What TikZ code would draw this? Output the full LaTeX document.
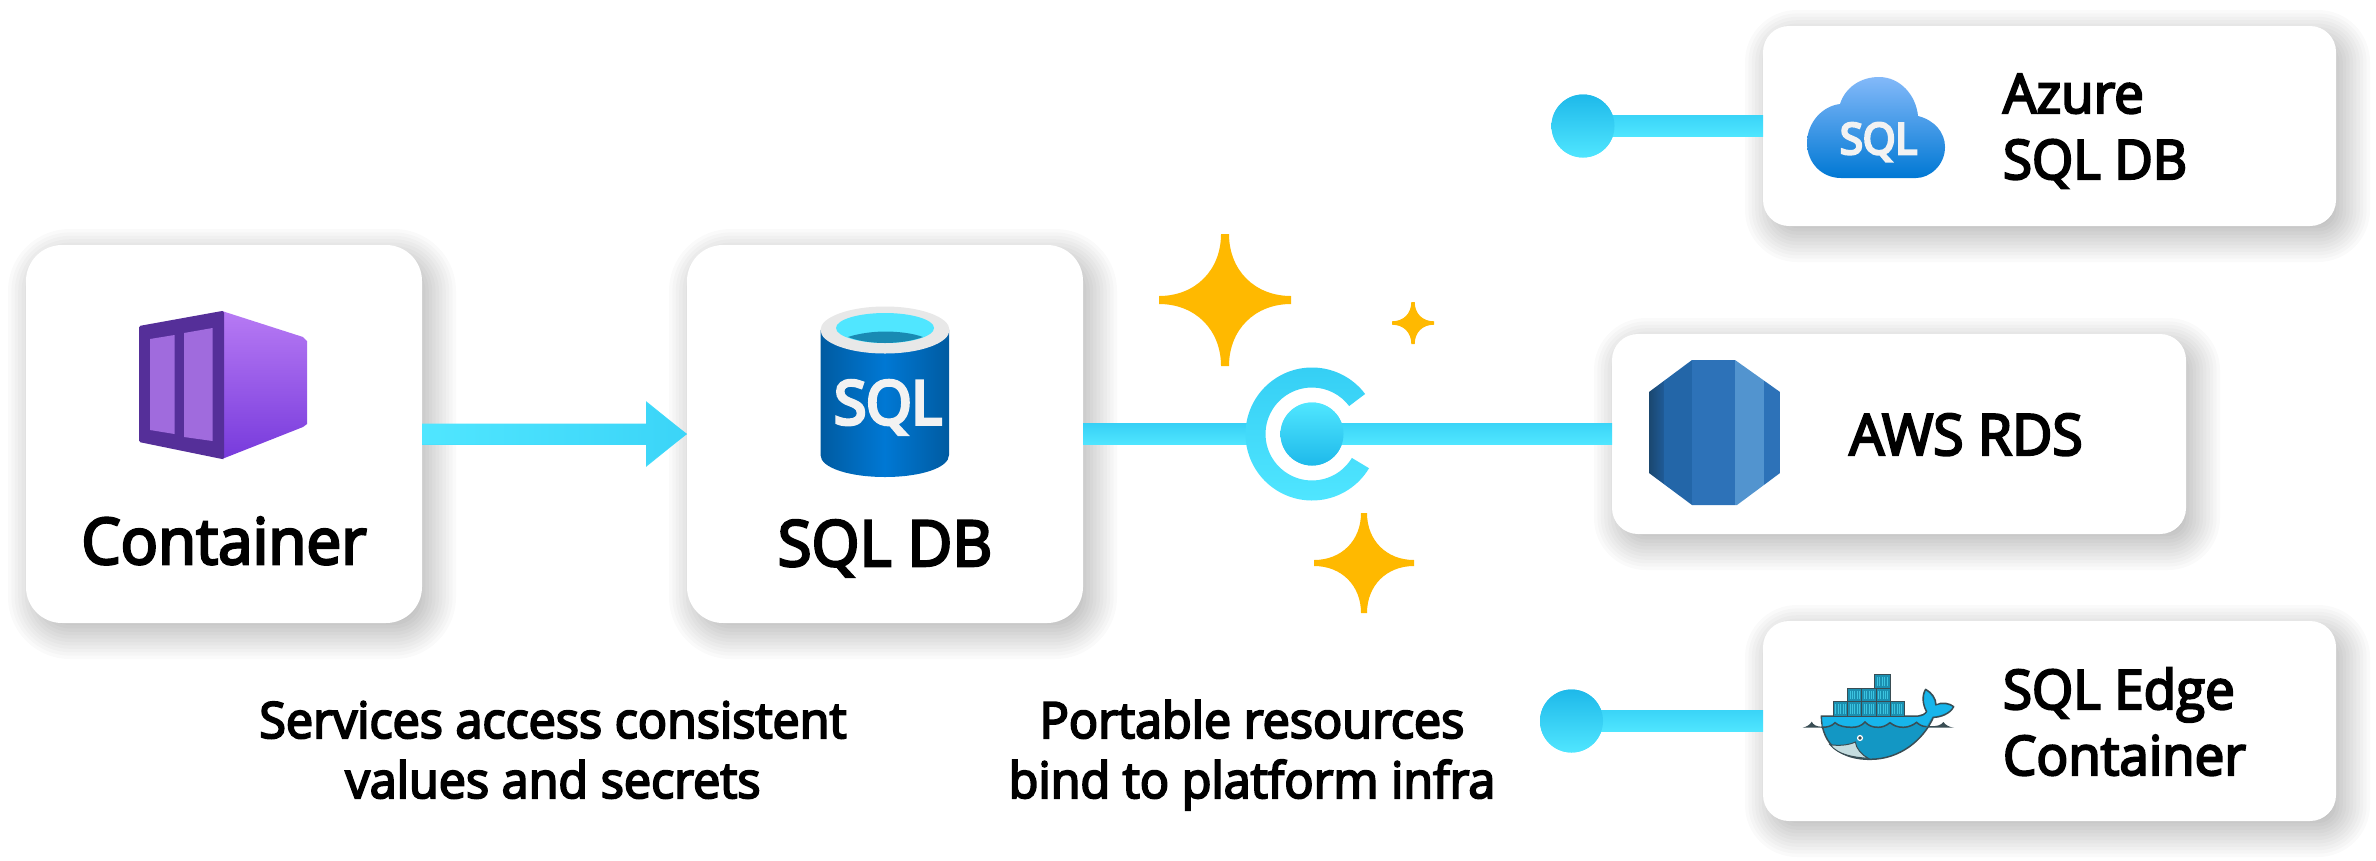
\documentclass[tikz,border=0pt]{standalone}
\usepackage{fontspec}
\usetikzlibrary{arrows.meta,calc}
\newfontfamily\seg{Open Sans}[FakeBold=4,FakeStretch=0.97]
\newfontfamily\segb{Open Sans}[FakeBold=6,FakeStretch=0.97]
\definecolor{flowc}{HTML}{42DBFB}
\definecolor{sparkc}{HTML}{FFB900}
\definecolor{whaleline}{HTML}{394D54}
\definecolor{lightc}{HTML}{50E6FF}
\definecolor{dotdark}{HTML}{1EB9EA}
\definecolor{purpA}{HTML}{B77AF4}
\definecolor{purpB}{HTML}{773ADC}
\definecolor{purpC}{HTML}{552F99}
\definecolor{purpD}{HTML}{A06BDD}
\definecolor{cylA}{HTML}{005BA1}
\definecolor{cylB}{HTML}{0078D4}
\definecolor{greyA}{HTML}{E8E8E8}
\definecolor{tealA}{HTML}{198AB3}
\definecolor{whiteA}{HTML}{F2F2F2}
\definecolor{cloudA}{HTML}{83B9F9}
\definecolor{rdsA}{HTML}{1A476F}
\definecolor{rdsB}{HTML}{1F5B98}
\definecolor{rdsC}{HTML}{2366A8}
\definecolor{rdsD}{HTML}{2D72B8}
\definecolor{rdsE}{HTML}{5294CF}
\definecolor{whA}{HTML}{1397C4}
\definecolor{whB}{HTML}{17B5EB}
\definecolor{whC}{HTML}{C5DDE0}
\definecolor{whD}{HTML}{1B8FB0}
\definecolor{whE}{HTML}{3CC4E0}
\newcommand{\cardshadow}[5]{%
  \foreach \i in {0,...,13}{%
    \pgfmathsetmacro{\e}{26-\i*3.4}%
    \pgfmathsetmacro{\rr}{max(#5+\e,1)}%
    \fill[black,opacity=.02,rounded corners=\rr pt] ({#1+8-\e},{#2+10-\e}) rectangle ({#3+8+\e},{#4+10+\e});%
  }}
\newcommand{\sparkle}[4]{% cx cy r tip
  \fill[sparkc] ({#1-#4},{#2-#3}) -- ({#1+#4},{#2-#3})
    .. controls ({#1+#4},{#2-.45*#3}) and ({#1+.45*#3},{#2-#4}) .. ({#1+#3},{#2-#4})
    -- ({#1+#3},{#2+#4})
    .. controls ({#1+.45*#3},{#2+#4}) and ({#1+#4},{#2+.45*#3}) .. ({#1+#4},{#2+#3})
    -- ({#1-#4},{#2+#3})
    .. controls ({#1-#4},{#2+.45*#3}) and ({#1-.45*#3},{#2+#4}) .. ({#1-#3},{#2+#4})
    -- ({#1-#3},{#2-#4})
    .. controls ({#1-.45*#3},{#2-#4}) and ({#1-#4},{#2-.45*#3}) .. ({#1-#4},{#2-#3}) -- cycle;}
\tikzset{
  card/.style={fill=white,inner sep=0pt,outer sep=0pt,rounded corners=#1},
  dotn/.style={circle,inner sep=0pt,outer sep=0pt,minimum size=63pt,top color=dotdark,bottom color=lightc},
  flow/.style={draw=flowc,line width=21pt},
  lbl/.style={text=black,inner sep=0pt,outer sep=0pt,font=\seg\fontsize{#1}{#1}\selectfont},
  two/.style={align=left,inner sep=0pt,outer sep=0pt,text=black,font=\seg\fontsize{#1}{66}\selectfont},
  sub/.style={align=center,inner sep=0pt,outer sep=0pt,text=black,font=\seg\fontsize{50}{60}\selectfont},
}
\begin{document}
\begin{tikzpicture}[x=1pt,y=-1pt]
\useasboundingbox (0,0) rectangle (2376,860);
\fill[white] (0,0) rectangle (2376,860);
% shadows
\cardshadow{26}{245}{422}{623}{36}
\cardshadow{687}{245}{1083}{623}{36}
\cardshadow{1763}{26}{2336}{226}{26}
\cardshadow{1612}{334}{2186}{534}{26}
\cardshadow{1763}{621}{2336}{821}{26}
% cards
\node[card=36pt,minimum width=396pt,minimum height=378pt] (container) at (224,434) {};
\node[card=36pt,minimum width=396pt,minimum height=378pt] (sqldb) at (885,434) {};
\node[card=26pt,minimum width=573pt,minimum height=200pt] (azure) at (2049.5,126) {};
\node[card=26pt,minimum width=574pt,minimum height=200pt] (aws) at (1899,434) {};
\node[card=26pt,minimum width=573pt,minimum height=200pt] (edge) at (2049.5,721) {};
% connector dots
\coordinate (hubin) at (1255,434);
\node[dotn] (azdot) at (1583,126) {};
\node[dotn] (edgedot) at (1571.5,721) {};
% connectors
\draw[flow,-{Triangle[width=63pt,length=41pt]}] (container.east) -- (sqldb.west);
\shade[left color=lightc,right color=flowc!80!dotdark] (422,423.5) -- (646,423.5) -- (646,403) -- (sqldb.west) -- (646,465) -- (646,444.5) -- (422,444.5) -- cycle;
\draw[flow] (sqldb.east) -- (hubin);
\shade[top color=flowc!70!dotdark,bottom color=lightc] (1083,423.5) rectangle (1255,444.5);
\draw[flow] (azdot) -- (azure.west);
\shade[top color=flowc!80!dotdark,bottom color=lightc] (1583,115.5) rectangle (1763,136.5);
\draw[flow] (edgedot) -- (edge.west);
\shade[top color=flowc!80!dotdark,bottom color=lightc] (1571.5,710.5) rectangle (1763,731.5);
% redraw dots above their lines
\shade[top color=dotdark,bottom color=lightc] (azdot) circle[radius=31.5pt];
\shade[top color=dotdark,bottom color=lightc] (edgedot) circle[radius=31.5pt];
% hub
\node[circle,inner sep=0pt,outer sep=0pt,minimum size=63pt,top color=lightc,bottom color=dotdark] (hub) at (1312,434) {};
\draw[flow] (hub) -- (aws.west);
\shade[top color=flowc!80!dotdark,bottom color=lightc] (1312,423) rectangle (1612,444);
\shade[top color=lightc,bottom color=dotdark] (hub) circle[radius=31.5pt];
\begin{scope}[shift={(1312,434)},y=1pt]
\shade[top color=flowc!60!dotdark,bottom color=lightc]
  (37:66.5pt) arc[start angle=37,end angle=329,radius=66.5pt]
  -- (329:46.5pt) arc[start angle=329,end angle=37,radius=46.5pt] -- cycle;
\end{scope}
% sparkles
\sparkle{1225}{300}{66}{4}
\sparkle{1413}{323}{21}{1.7}
\sparkle{1364}{563}{50}{3}
% container icon
\shade[top color=purpA,bottom color=purpB] (222,311) -- (303,337) -- (307,341) -- (307,424) -- (303,427) -- (222,459) -- cycle;
\fill[purpC,rounded corners=1.5pt] (139,326) -- (222,311) -- (224,311) -- (224,459) -- (222,459) -- (139,442) -- cycle;
\fill[purpD] (150,339) -- (174.5,335) -- (174.5,434) -- (150,430) -- cycle;
\fill[purpD] (184,333) -- (212.6,328) -- (212.6,441) -- (184,437) -- cycle;
\node[lbl=64,anchor=base] (containertxt) at (224,564) {Container};
% SQL cylinder
\shade[left color=cylA,right color=cylA,middle color=cylB] (820.5,330) -- (820.5,455) .. controls (820.5,468) and (850,477) .. (885,477) .. controls (920,477) and (949,468) .. (949,455) -- (949,330) -- cycle;
\fill[greyA] (885,330) circle[x radius=64.5pt,y radius=23.5pt];
\fill[lightc] (885,328) circle[x radius=49pt,y radius=15pt];
\fill[tealA] (848,337) .. controls (860,333) and (875,331.5) .. (885,331.5) .. controls (897,331.5) and (912,333) .. (923,337) .. controls (912,341) and (898,343) .. (885,343) .. controls (872,343) and (858,341) .. (848,337) -- cycle;
\node[anchor=base,inner sep=0pt,text=whiteA,font=\segb\fontsize{60}{60}\selectfont] (cylsql) at (888,424) {SQL};
\node[lbl=63.5,anchor=base] (sqldbtxt) at (885,566) {SQL DB};
% Azure cloud
\shade[top color=cloudA,bottom color=cylB] (1841,178) .. controls (1822,178) and (1807,163) .. (1807,143) .. controls (1807,123) and (1822,106) .. (1840,104) .. controls (1845,88) and (1860,77) .. (1879,77) .. controls (1900,77) and (1916,95) .. (1918,116) .. controls (1934,120) and (1945,132) .. (1945,147) .. controls (1945,165) and (1930,178) .. (1916,178) -- cycle;
\node[anchor=base,inner sep=0pt,text=whiteA,font=\segb\fontsize{43}{43}\selectfont] (cloudsql) at (1878.5,154) {SQL};
\node[two=54.5,anchor=base west] (azuretxt) at (2003,179) {Azure\\SQL DB};
% AWS RDS icon
\begin{scope}
\clip (1649,392) -- (1692,360) -- (1735,360) -- (1780,392) -- (1780,473) -- (1737,505) -- (1692,505) -- (1649,473) -- cycle;
\shade[left color=rdsA,right color=rdsB] (1649,355) rectangle (1664,510);
\fill[rdsC] (1664,355) rectangle (1692,510);
\fill[rdsD] (1692,355) rectangle (1735,510);
\fill[rdsE] (1735,355) rectangle (1764,510);
\fill[rdsD] (1764,355) rectangle (1781,510);
\end{scope}
\node[lbl=57,anchor=base] (awstxt) at (1966,455) {AWS RDS};
% Docker whale
\begin{scope}[shift={(1780,640)},x=0.3333pt,y=-0.3333pt]
\fill[whaleline] (68,263) .. controls (80,260) and (90,255) .. (95,245) .. controls (100,255) and (110,260) .. (124,260) -- (450,258) .. controls (470,260) and (485,255) .. (490,246) .. controls (497,256) and (510,262) .. (522,263) -- cycle;
\filldraw[fill=whA,draw=whaleline,line width=1.5pt,line join=round] (124,228) -- (415,228) .. controls (425,228) and (435,222) .. (440,215) .. controls (428,195) and (425,165) .. (437,148) .. controls (455,158) and (468,175) .. (468,195) .. controls (485,185) and (510,190) .. (521,200) .. controls (510,222) and (480,232) .. (460,232) .. controls (430,300) and (360,358) .. (270,358) .. controls (190,358) and (125,320) .. (124,228) -- cycle;
\fill[whB] (127,231) -- (415,231) .. controls (427,231) and (437,225) .. (443,215) .. controls (432,195) and (428,170) .. (438,153) .. controls (452,162) and (464,178) .. (465,198) .. controls (482,190) and (505,193) .. (517,201) .. controls (507,219) and (478,228) .. (457,229) .. controls (450,240) and (445,250) .. (440,258) .. controls (425,258) and (415,252) .. (410,247) .. controls (400,255) and (385,260) .. (370,260) .. controls (352,260) and (340,256) .. (330,248) .. controls (318,258) and (305,260) .. (295,260) .. controls (275,260) and (265,256) .. (255,246) .. controls (245,258) and (230,260) .. (215,260) .. controls (195,260) and (175,256) .. (165,248) .. controls (155,258) and (140,260) .. (128,260) -- cycle;
\draw[whaleline,line width=1.5pt] (124,262) .. controls (145,262) and (155,258) .. (165,248) .. controls (175,258) and (195,262) .. (215,262) .. controls (230,262) and (245,258) .. (255,246) .. controls (265,256) and (275,262) .. (295,262) .. controls (305,262) and (318,258) .. (330,248) .. controls (340,256) and (352,262) .. (370,262) .. controls (385,262) and (400,255) .. (410,247) .. controls (415,252) and (425,260) .. (440,260);
\filldraw[fill=whC,draw=whaleline,line width=1pt] (150,314) .. controls (175,318) and (205,316) .. (226,306) .. controls (228,325) and (245,345) .. (265,355) .. controls (220,352) and (175,345) .. (150,314) -- cycle;
\fill[white] (240,294) circle[radius=3.1pt];
\fill[whaleline] (240,294) circle[radius=1.8pt];
\foreach \xa/\xb/\ya/\yb in {160/203/185/228,203/245/185/228,245/288/185/228,288/330/185/228,330/372/185/228,203/245/145/185,245/288/145/185,288/330/145/185,283/330/103/145}{%
  \filldraw[fill=whD,draw=whaleline,line width=1pt] (\xa,\ya) rectangle (\xb,\yb);
  \foreach \k in {1,...,5}{%
    \pgfmathsetmacro{\xx}{\xa+(\xb-\xa)*\k/6}
    \draw[whE,line width=.7pt] (\xx,\ya+7) -- (\xx,\yb-7);
  }
}
\end{scope}
\node[two=54.5,anchor=base west] (edgetxt) at (2003,775) {SQL Edge\\Container};
% bottom labels
\node[sub,anchor=base] (subl) at (553,798) {Services access consistent\\values and secrets};
\node[sub,anchor=base] (subr) at (1252,798) {Portable resources\\bind to platform infra};
\end{tikzpicture}
\end{document}
